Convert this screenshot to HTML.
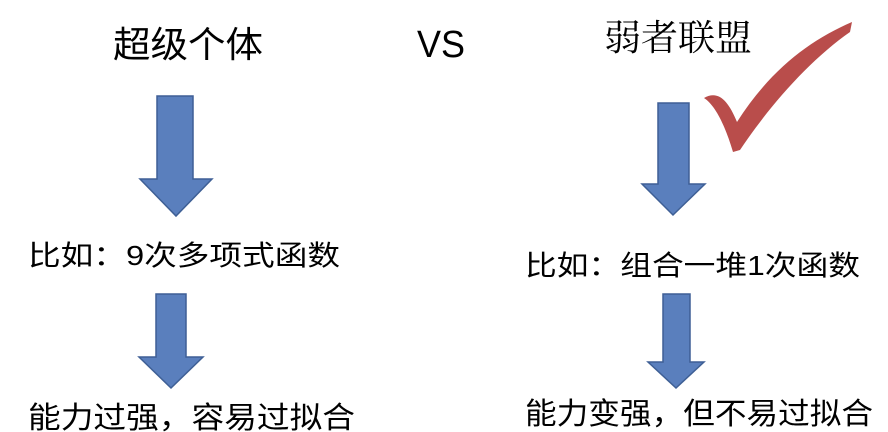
<!DOCTYPE html>
<html><head><meta charset="utf-8"><style>
html,body{margin:0;padding:0;background:#fff;}
svg{display:block;}
.s{font-family:"Liberation Sans","Noto Sans CJK SC",sans-serif;fill:#000;}
.t{font-family:"Liberation Serif","Noto Serif CJK SC",serif;fill:#000;}
</style></head><body>
<svg width="888" height="432" viewBox="0 0 888 432" xmlns="http://www.w3.org/2000/svg">
<text class="s" x="113" y="57" font-size="36" textLength="150" lengthAdjust="spacingAndGlyphs">超级个体</text>
<text class="s" x="417" y="57" font-size="38" textLength="48" lengthAdjust="spacingAndGlyphs">VS</text>
<text class="t" x="604" y="50" font-size="36" textLength="148" lengthAdjust="spacingAndGlyphs">弱者联盟</text>
<path d="M704,98 C718,90 728,100 737,122 C770,70 810,40 852,22 L850,32 C810,60 770,105 740,150 L733,152 C725,125 715,105 704,98 Z" fill="#b94d4b"/>
<g fill="#5a7fbd" stroke="#3e5f95" stroke-width="1.5">
<polygon points="157,96 193,96 193,179 212,179 176,216 140,179 157,179"/>
<polygon points="156,294 186,294 186,357 203,357 171,388 139,357 156,357"/>
<polygon points="658,103 689,103 689,184 705,184 673,215 642,184 658,184"/>
<polygon points="663,294 690,294 690,362 704,362 676,388 648,362 663,362"/>
</g>
<text class="s" x="28" y="265" font-size="28" textLength="312" lengthAdjust="spacingAndGlyphs">比如：9次多项式函数</text>
<text class="s" x="525" y="275" font-size="28" textLength="335" lengthAdjust="spacingAndGlyphs">比如：组合一堆1次函数</text>
<text class="s" x="28" y="428" font-size="30" textLength="327" lengthAdjust="spacingAndGlyphs">能力过强，容易过拟合</text>
<text class="s" x="525" y="424" font-size="30" textLength="348" lengthAdjust="spacingAndGlyphs">能力变强，但不易过拟合</text>
</svg>
</body></html>
